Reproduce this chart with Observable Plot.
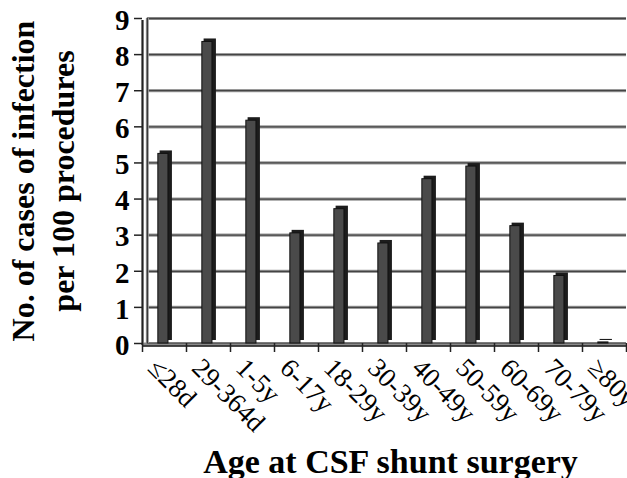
<!DOCTYPE html>
<html>
<head>
<meta charset="utf-8">
<script src="https://cdn.jsdelivr.net/npm/d3@7"></script>
<script src="https://cdn.jsdelivr.net/npm/@observablehq/plot@0.6"></script>
<style>
  html, body { margin: 0; padding: 0; background: #fff; }
</style>
</head>
<body>
<div id="chart"></div>
<script>
const categories = ["≤28d", "29-364d", "1-5y", "6-17y", "18-29y", "30-39y", "40-49y", "50-59y", "60-69y", "70-79y", "≥80y"];
const values = [5.25, 8.35, 6.17, 3.05, 3.72, 2.77, 4.55, 4.9, 3.25, 1.87, 0.03];
const yTicks = [0, 1, 2, 3, 4, 5, 6, 7, 8, 9];
const yTitle1 = "No. of cases of infection";
const yTitle2 = "per 100 procedures";
const xTitle = "Age at CSF shunt surgery";

const data = categories.map((c, i) => ({cat: c, i, v: values[i]}));
const bounds = d3.range(categories.length + 1);
const grid = yTicks.filter(d => d > 0);
const n = categories.length;
const serif = "'Liberation Serif', 'Times New Roman', serif";

const plot = Plot.plot({
  width: 627,
  height: 478,
  marginLeft: 142,
  marginRight: 1,
  marginTop: 18,
  marginBottom: 135,
  style: `font-family: ${serif}; background: #fff; color: #000;`,
  x: {type: "linear", domain: [0, n], axis: null},
  y: {type: "linear", domain: [0, 9], axis: null},
  marks: [
    // gridlines (3D back wall)
    Plot.ruleY(grid, {y: d => d, x1: () => 0.11, x2: () => n, stroke: "#9a9a9a", strokeWidth: 3.2}),
    Plot.ruleY(grid, {y: d => d, x1: () => 0.11, x2: () => n, stroke: "#444", strokeWidth: 1.3}),
    // floor
    Plot.ruleY([0], {y: d => d, x1: () => 0, x2: () => n, stroke: "#8a8a8a", strokeWidth: 4, dy: 1}),
    Plot.ruleY([0], {y: d => d, x1: () => 0, x2: () => n, stroke: "#222", strokeWidth: 1.3, dy: 2.5}),
    Plot.ruleY([0], {y: d => d, x1: () => 0.11, x2: () => n, stroke: "#333", strokeWidth: 1.2, dy: -0.5}),
    // back wall vertical
    Plot.ruleX([0.11], {x: d => d, y1: () => 0, y2: () => 9, stroke: "#9a9a9a", strokeWidth: 3}),
    Plot.ruleX([0.11], {x: d => d, y1: () => 0, y2: () => 9, stroke: "#333", strokeWidth: 1.2}),
    // left axis line
    Plot.ruleX([0], {x: d => d, y1: () => 0, y2: () => 9, stroke: "#8a8a8a", strokeWidth: 3, dy: 2}),
    Plot.ruleX([0], {x: d => d, y1: () => 0, y2: () => 9, stroke: "#222", strokeWidth: 1.3, dy: 2}),
    // y ticks
    Plot.ruleY(yTicks, {y: d => d, x1: () => 0, x2: () => 0, stroke: "#222", strokeWidth: 1.5, insetLeft: -8}),
    // bars: side / top (dark), then front face
    Plot.rectY(data, {x1: d => d.i + 0.40, x2: d => d.i + 0.68, y1: () => 0, y2: "v", dy: -3, fill: "#1c1c1c"}),
    Plot.rectY(data, {x1: d => d.i + 0.36, x2: d => d.i + 0.59, y1: () => 0, y2: "v", fill: "#4a4a4a", stroke: "#111", strokeWidth: 1}),
    // x ticks at band boundaries
    Plot.ruleX(bounds, {x: d => d, y1: () => 0, y2: () => 0, stroke: "#222", strokeWidth: 1.5, insetBottom: -9}),
    // y tick labels
    Plot.text(yTicks, {x: () => 0, y: d => d, text: d => String(d), textAnchor: "end", dx: -13, dy: 2, fontSize: 29, fontWeight: "bold", fontFamily: serif, fill: "#000"}),
    // x tick labels (rotated)
    Plot.text(data, {x: d => d.i + 0.5, y: () => 0, text: "cat", textAnchor: "start", rotate: 45, dx: -12, dy: 20, fontSize: 27, fontFamily: serif, fill: "#000"}),
    // titles
    Plot.text([yTitle1], {frameAnchor: "left", dx: -119, dy: 0, rotate: -90, text: d => d, fontSize: 32, fontWeight: "bold", fontFamily: serif, textAnchor: "middle", fill: "#000"}),
    Plot.text([yTitle2], {frameAnchor: "left", dx: -79, dy: 0, rotate: -90, text: d => d, fontSize: 32, fontWeight: "bold", fontFamily: serif, textAnchor: "middle", fill: "#000"}),
    Plot.text([xTitle], {frameAnchor: "bottom", dx: 6, dy: 129, text: d => d, fontSize: 34, fontWeight: "bold", fontFamily: serif, fill: "#000"})
  ]
});
document.getElementById("chart").appendChild(plot);
</script>
</body>
</html>
